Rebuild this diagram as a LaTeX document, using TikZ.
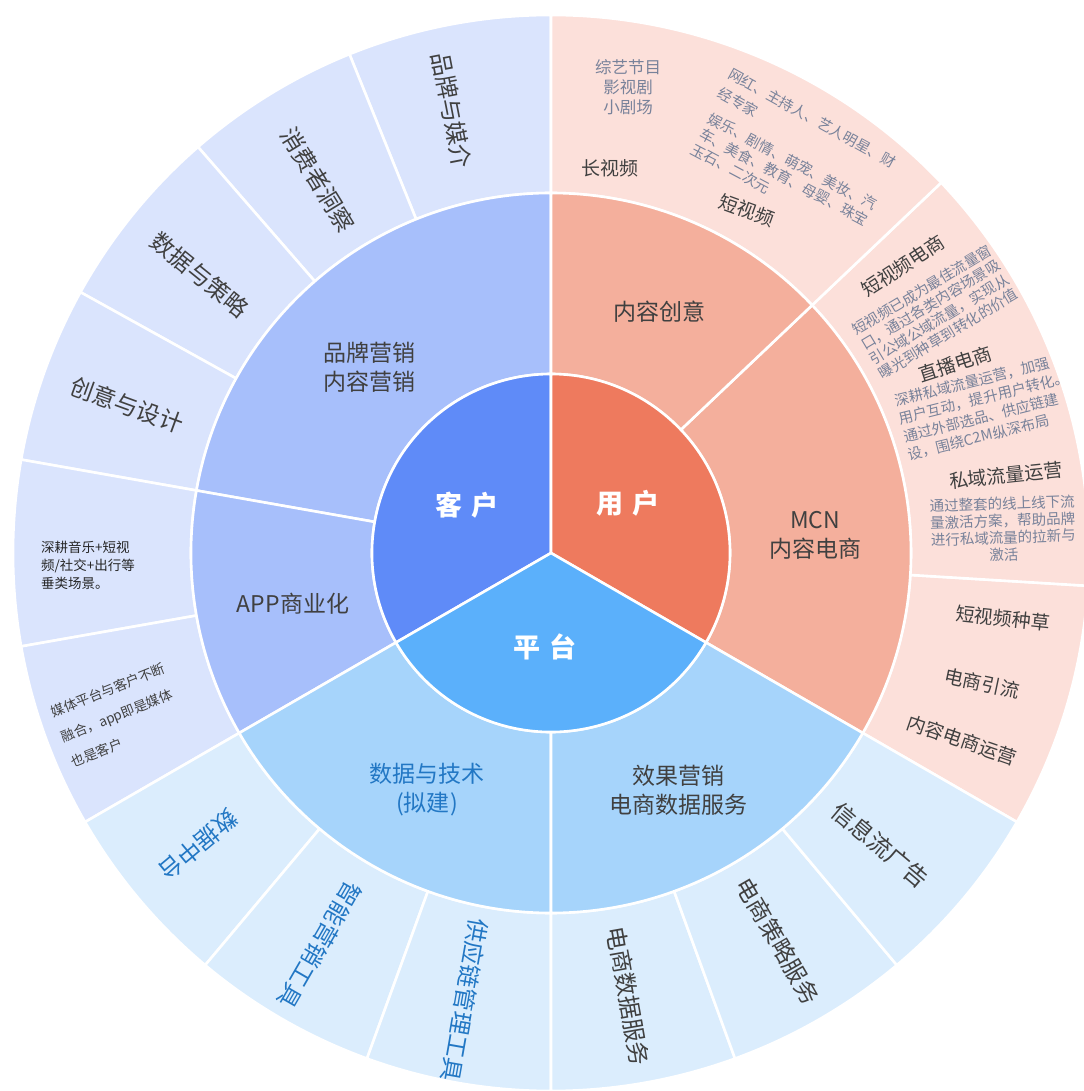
\documentclass[tikz,border=0pt]{standalone}
\usepackage{fontspec}
\setmainfont{Noto Sans CJK SC}
\definecolor{kehuA}{HTML}{5F8BF8}
\definecolor{kehuB}{HTML}{A7BFFB}
\definecolor{kehuC}{HTML}{DAE4FD}
\definecolor{yongA}{HTML}{EE7A5E}
\definecolor{yongB}{HTML}{F4AF9C}
\definecolor{yongC}{HTML}{FCE0DA}
\definecolor{pingA}{HTML}{5BB0FB}
\definecolor{pingB}{HTML}{A6D4FB}
\definecolor{pingC}{HTML}{DBEDFD}
\definecolor{txtdark}{HTML}{404040}
\definecolor{txtdesc}{HTML}{78829A}
\definecolor{txtblue}{HTML}{2277C4}
\begin{document}
\begin{tikzpicture}
\tikzset{seg/.style={draw=white,line width=2.6pt,line join=round},
  core/.style={text=white,font=\fontsize{27}{30}\selectfont\bfseries,inner sep=0pt},
  midlbl/.style={text=txtdark,font=\fontsize{23}{29}\selectfont,align=center,inner sep=0pt},
  outlbl/.style={text=txtdark,font=\fontsize{23.5}{28}\selectfont,inner sep=0pt},
  sublbl/.style={text=txtdark,font=\fontsize{19}{22}\selectfont,inner sep=0pt},
  desclbl/.style={text=txtdesc,font=\fontsize{14.5}{17.5}\selectfont,inner sep=0pt}}
\useasboundingbox (-551pt,-538pt) rectangle (532pt,553pt);
\foreach \a/\b/\r/\R/\c in {90/112/360pt/538pt/kehuC,112/131/360pt/538pt/kehuC,131/151/360pt/538pt/kehuC,151/170/360pt/538pt/kehuC,170/190/360pt/538pt/kehuC,190/210/360pt/538pt/kehuC,
  -30/-3.5/360pt/538pt/yongC,-3.5/43.5/360pt/538pt/yongC,43.5/90/360pt/538pt/yongC,
  210/230/360pt/538pt/pingC,230/250/360pt/538pt/pingC,250/270/360pt/538pt/pingC,270/290/360pt/538pt/pingC,290/310/360pt/538pt/pingC,310/330/360pt/538pt/pingC,
  90/170/179pt/360pt/kehuB,170/210/179pt/360pt/kehuB,-30/43.5/179pt/360pt/yongB,43.5/90/179pt/360pt/yongB,210/270/179pt/360pt/pingB,270/330/179pt/360pt/pingB,
  90/210/0pt/179pt/kehuA,-30/90/0pt/179pt/yongA,210/330/0pt/179pt/pingA}
  \filldraw[seg,fill=\c] (\a:\r) arc (\a:\b:\r) -- (\b:\R) arc (\b:\a:\R) -- cycle;
\node[core] (kehu) at (-84pt,48pt) {客\hspace{9pt}户};
\node[core] (yonghu) at (77pt,50pt) {用\hspace{9pt}户};
\node[core] (pingtai) at (-6pt,-94pt) {平\hspace{9pt}台};
\node[midlbl] (pinpai) at (-181pt,186pt) {品牌营销\\内容营销};
\node[midlbl] (app) at (-258pt,-51pt) {APP商业化};
\node[midlbl] (chuangyi) at (108pt,241pt) {内容创意};
\node[midlbl] (mcn) at (264pt,18pt) {MCN\\内容电商};
\node[midlbl,text=txtblue] (jishu) at (-124pt,-237pt) {数据与技术\\(拟建)};
\node[midlbl] (xiaoguo) at (127pt,-237pt) {效果营销\\电商数据服务};
\node[outlbl,rotate=-79] (meijie) at (-99pt,443pt) {品牌与媒介};
\node[outlbl,rotate=-58.5] (dongcha) at (-233pt,373pt) {消费者洞察};
\node[outlbl,rotate=-39] (celve) at (-351pt,278pt) {数据与策略};
\node[outlbl,rotate=-20] (sheji) at (-424pt,148pt) {创意与设计};
\node[desclbl,text=black!85,font=\fontsize{13.5}{18}\selectfont,align=left] (shengeng) at (-463pt,-12pt) {深耕音乐+短视\\频/社交+出行等\\垂类场景。};
\node[desclbl,text=black!75,font=\fontsize{13.5}{27}\selectfont,align=left,rotate=22] (ronghe) at (-433pt,-162pt) {媒体平台与客户不断\\融合，app即是媒体\\也是客户};
\node[outlbl,text=txtblue,rotate=220] (zhongtai) at (-353pt,-292pt) {数据中台};
\node[outlbl,text=txtblue,rotate=240] (zhineng) at (-231pt,-392pt) {智能营销工具};
\node[outlbl,text=txtblue,rotate=260] (gongying) at (-86pt,-447pt) {供应链管理工具};
\node[outlbl,rotate=280] (dsfuwu) at (77pt,-443pt) {电商数据服务};
\node[outlbl,rotate=300] (clfuwu) at (227pt,-388pt) {电商策略服务};
\node[outlbl,rotate=320] (xinxiliu) at (329pt,-292pt) {信息流广告};
\node[desclbl,font=\fontsize{16.5}{20}\selectfont,align=center] (zongyi) at (77pt,466pt) {综艺节目\\影视剧\\小剧场};
\node[sublbl] (changsp) at (59pt,385pt) {长视频};
\node[desclbl,font=\fontsize{14.5}{22}\selectfont,align=left,rotate=-29] (wanghong) at (256pt,425pt) {网红、主持人、艺人明星、财\\经专家};
\node[desclbl,align=left,rotate=-28] (yule) at (233pt,376pt) {娱乐、剧情、萌宠、美妆、汽\\车、美食、教育、母婴、珠宝\\玉石、二次元};
\node[sublbl,rotate=-20] (duansp) at (196pt,343pt) {短视频};
\node[sublbl,rotate=33] (dsdian) at (352pt,287pt) {短视频电商};
\node[desclbl,font=\fontsize{14.5}{17}\selectfont,align=left,rotate=31] (dsdesc) at (384pt,241pt) {短视频已成为最佳流量窗\\口，通过各类内容场景吸\\引公域公域流量，实现从\\曝光到种草到转化的价值};
\node[sublbl,rotate=18] (zhibo) at (404pt,189pt) {直播电商};
\node[desclbl,font=\fontsize{14.5}{18.5}\selectfont,align=left,rotate=14] (zbdesc) at (435pt,146pt) {深耕私域流量运营，加强\\用户互动，提升用户转化。\\通过外部选品、供应链建\\设，围绕C2M纵深布局};
\node[sublbl,rotate=6] (siyu) at (455pt,78pt) {私域流量运营};
\node[desclbl,font=\fontsize{14.5}{17}\selectfont,align=center,rotate=2] (sydesc) at (452pt,24pt) {通过整套的线上线下流\\量激活方案，帮助品牌\\进行私域流量的拉新与\\激活};
\node[sublbl,rotate=-6] (zhongcao) at (452pt,-65pt) {短视频种草};
\node[sublbl,rotate=-12] (yinliu) at (431pt,-130pt) {电商引流};
\node[sublbl,rotate=-19] (yunying) at (411pt,-187pt) {内容电商运营};
\end{tikzpicture}
\end{document}
